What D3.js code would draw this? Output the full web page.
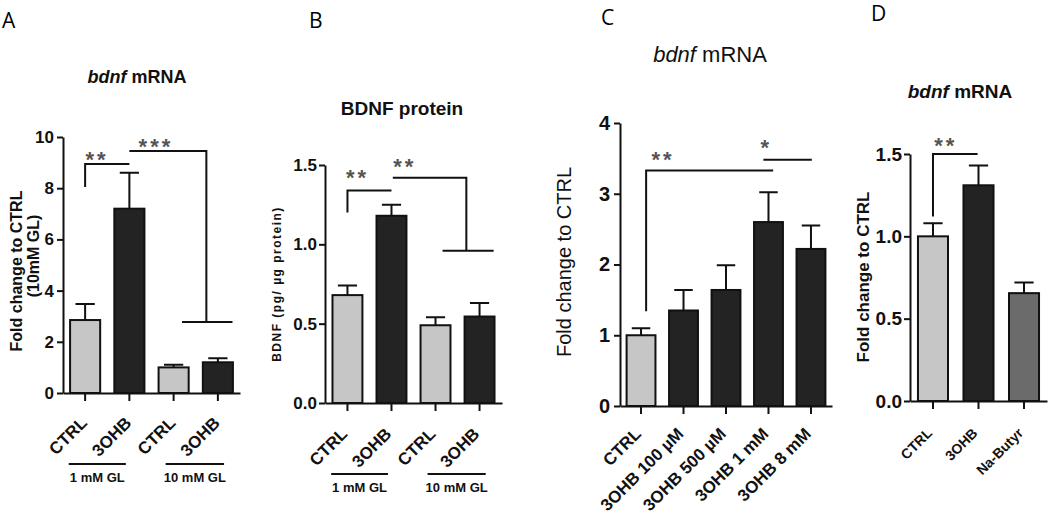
<!DOCTYPE html>
<html lang="en">
<head>
<meta charset="utf-8">
<title>bdnf panels</title>
<script src="https://cdn.jsdelivr.net/npm/d3@7"></script>
<style>
  body { margin: 0; background: #fff; }
  svg { display: block; font-family: "Liberation Sans", Arial, sans-serif; }
  .domain, .tick line { stroke: #111; stroke-width: 2; }
  .panel-letter { font-family: "Open Sans", "Liberation Sans", sans-serif; font-size: 21px; }
  .star { fill: #555; font-weight: bold; }
</style>
</head>
<body>
<svg width="1050" height="516"></svg>
<script>
// ---- data ----
// panel A: bdnf mRNA, fold change to CTRL (10 mM GL)
var aCats = ["CTRL", "3OHB", "CTRL", "3OHB"],
    aMeans = [2.85, 7.2, 1.0, 1.2],
    aSem = [0.63, 1.4, 0.1, 0.16],
    aTicks = [0, 2, 4, 6, 8, 10];
// panel B: BDNF protein
var bCats = ["CTRL", "3OHB", "CTRL", "3OHB"],
    bMeans = [0.68, 1.18, 0.49, 0.545],
    bSem = [0.06, 0.07, 0.05, 0.085],
    bTicks = [0, 0.5, 1.0, 1.5];
// panel C: bdnf mRNA, 3OHB doses
var cCats = ["CTRL", "3OHB 100 \u00b5M", "3OHB 500 \u00b5M", "3OHB 1 mM", "3OHB 8 mM"],
    cMeans = [1.0, 1.35, 1.64, 2.6, 2.22],
    cSem = [0.1, 0.29, 0.35, 0.42, 0.33],
    cTicks = [0, 1, 2, 3, 4];
// panel D: bdnf mRNA, CTRL / 3OHB / Na-Butyr
var dCats = ["CTRL", "3OHB", "Na-Butyr"],
    dMeans = [1.0, 1.31, 0.655],
    dSem = [0.08, 0.12, 0.065],
    dTicks = [0, 0.5, 1.0, 1.5];

// significance brackets: polylines in [category index, value]
var aSig = [
  {pts: [[0, 8.05], [0, 8.95], [1, 8.95]], label: "**", at: [0.27, 9.3]},
  {pts: [[1, 9.45], [2.74, 9.45], [2.74, 2.77]], label: "***", at: [1.6, 9.8]},
  {pts: [[2.19, 2.77], [3.33, 2.77]]}
];
var bSig = [
  {pts: [[0, 1.2], [0, 1.34], [1, 1.34]], label: "**", at: [0.23, 1.45]},
  {pts: [[1.03, 1.42], [2.7, 1.42], [2.7, 0.96]], label: "**", at: [1.3, 1.52]},
  {pts: [[2.16, 0.96], [3.32, 0.96]]}
];
var cSig = [
  {pts: [[0.12, 1.34], [0.12, 3.33], [3.11, 3.33]], label: "**", at: [0.52, 3.55]},
  {pts: [[2.88, 3.48], [4.02, 3.48]], label: "*", at: [2.95, 3.72]}
];
var dSig = [
  {pts: [[0, 1.12], [0, 1.5], [0.98, 1.5]], label: "**", at: [0.28, 1.58]}
];

// group underlines for A and B
var glGroups = [
  {label: "1 mM GL", from: -0.37, to: 0.92},
  {label: "10 mM GL", from: 1.82, to: 3.14}
];

var LIGHT = "#c6c6c6", DARK = "#232323", MID = "#6b6b6b";

var svg = d3.select("svg");

function drawPanel(p) {
  var g = svg.append("g");
  var idx = d3.range(p.cats.length);

  var x = d3.scaleBand().domain(idx).range([p.x0, p.x1])
    .paddingInner(p.pin).paddingOuter(p.pout);
  var y = d3.scaleLinear().domain([0, p.ymax]).range([p.y0, p.ytop]);

  // fractional category position -> pixel
  function fx(f) {
    var i = Math.max(0, Math.min(p.cats.length - 2, Math.floor(f)));
    var c0 = x(i) + x.bandwidth() / 2, c1 = x(i + 1) + x.bandwidth() / 2;
    return c0 + (f - i) * (c1 - c0);
  }

  // bars
  g.selectAll("rect.bar").data(p.means).join("rect")
    .attr("x", function(d, i) { return x(i); })
    .attr("y", function(d) { return y(d); })
    .attr("width", x.bandwidth())
    .attr("height", function(d) { return y(0) - y(d); })
    .attr("fill", function(d, i) { return p.colors[i]; })
    .attr("stroke", "#111").attr("stroke-width", 2);

  // error bars (upper only)
  var cap = x.bandwidth() * 0.32;
  g.selectAll("path.err").data(p.means).join("path")
    .attr("d", function(d, i) {
      var cx = x(i) + x.bandwidth() / 2, top = y(d + p.sem[i]);
      return "M" + cx + "," + y(d) + "V" + top + "M" + (cx - cap) + "," + top + "H" + (cx + cap);
    })
    .attr("fill", "none").attr("stroke", "#111").attr("stroke-width", 2);

  // y axis
  var ya = g.append("g").attr("transform", "translate(" + p.x0 + ",0)")
    .call(d3.axisLeft(y).tickValues(p.ticks).tickFormat(d3.format(p.fmt))
      .tickSize(6).tickSizeOuter(0).tickPadding(p.tpad));
  ya.selectAll("text").attr("font-size", p.tickFont).attr("font-weight", "bold")
    .attr("fill", "#111");

  // x axis
  var xa = g.append("g").attr("transform", "translate(0," + p.y0 + ")")
    .call(d3.axisBottom(x).tickSize(8).tickSizeOuter(0)
      .tickFormat(function(i) { return p.cats[i]; }));
  xa.selectAll("text")
    .attr("x", 0).attr("y", 0).attr("dy", 0)
    .attr("text-anchor", "end")
    .attr("transform", "translate(" + p.lx + "," + p.ly + ") rotate(-45)")
    .attr("font-size", p.xFont).attr("font-weight", "bold").attr("fill", "#111");

  // brackets
  var line = d3.line().x(function(d) { return fx(d[0]); }).y(function(d) { return y(d[1]); });
  g.selectAll("path.sig").data(p.sig).join("path")
    .attr("d", function(d) { return line(d.pts); })
    .attr("fill", "none").attr("stroke", "#111").attr("stroke-width", 2);
  g.selectAll("text.star").data(p.sig.filter(function(d) { return d.label; })).join("text")
    .attr("class", "star")
    .attr("x", function(d) { return fx(d.at[0]); })
    .attr("y", function(d) { return y(d.at[1]) + 12; })
    .attr("text-anchor", "middle")
    .attr("font-size", 22).attr("letter-spacing", 3)
    .text(function(d) { return d.label; });

  // group underlines
  if (p.groups) {
    p.groups.forEach(function(gr) {
      var a = fx(gr.from), b = fx(gr.to);
      g.append("line").attr("x1", a).attr("x2", b)
        .attr("y1", p.gy).attr("y2", p.gy).attr("stroke", "#111").attr("stroke-width", 2);
      g.append("text").attr("x", (a + b) / 2).attr("y", p.gy + 18)
        .attr("text-anchor", "middle").attr("font-size", 13).attr("font-weight", "bold")
        .attr("fill", "#111").text(gr.label);
    });
  }

  // title
  var t = g.append("text").attr("x", p.tx).attr("y", p.ty).attr("text-anchor", "middle")
    .attr("font-size", p.titleFont).attr("font-weight", p.titleWeight).attr("fill", "#111");
  if (p.italicWord) {
    t.append("tspan").attr("font-style", "italic").text(p.italicWord);
    t.append("tspan").text(" " + p.title);
  } else {
    t.text(p.title);
  }

  // y label lines
  p.ylab.forEach(function(l) {
    g.append("text")
      .attr("transform", "translate(" + l.x + "," + l.y + ") rotate(-90)")
      .attr("text-anchor", "middle")
      .attr("font-size", l.size).attr("font-weight", l.weight)
      .attr("letter-spacing", l.ls || 0)
      .attr("fill", "#111").text(l.text);
  });

  // panel letter
  svg.append("text").attr("class", "panel-letter")
    .attr("x", p.letter[1]).attr("y", p.letter[2]).text(p.letter[0]);
}

drawPanel({
  cats: aCats, means: aMeans, sem: aSem, ticks: aTicks, fmt: "d", ymax: 10,
  colors: [LIGHT, DARK, LIGHT, DARK], sig: aSig, groups: glGroups, gy: 464,
  x0: 63, x1: 240, pin: 0.32, pout: 0.16, y0: 393, ytop: 137,
  tickFont: 17, tpad: 3, xFont: 17, lx: 3, ly: 31,
  title: "mRNA", italicWord: "bdnf", tx: 137, ty: 83, titleFont: 18, titleWeight: "bold",
  ylab: [
    {text: "Fold change to CTRL", x: 22, y: 271, size: 16, weight: "bold"},
    {text: "(10mM GL)", x: 39, y: 256, size: 16, weight: "bold"}
  ],
  letter: ["A", 2, 28]
});

drawPanel({
  cats: bCats, means: bMeans, sem: bSem, ticks: bTicks, fmt: ".1f", ymax: 1.5,
  colors: [LIGHT, DARK, LIGHT, DARK], sig: bSig, groups: glGroups, gy: 474,
  x0: 325, x1: 502, pin: 0.32, pout: 0.17, y0: 403, ytop: 165,
  tickFont: 17, tpad: 2, xFont: 17, lx: 1, ly: 32,
  title: "BDNF protein", tx: 402, ty: 115, titleFont: 19, titleWeight: "bold",
  ylab: [
    {text: "BDNF (pg/ \u00b5g protein)", x: 281, y: 284, size: 12, weight: "bold", ls: 1.5}
  ],
  letter: ["B", 309, 28]
});

drawPanel({
  cats: cCats, means: cMeans, sem: cSem, ticks: cTicks, fmt: "d", ymax: 4,
  colors: [LIGHT, DARK, DARK, DARK, DARK], sig: cSig,
  x0: 620, x1: 832, pin: 0.32, pout: 0.155, y0: 406, ytop: 123,
  tickFont: 20, tpad: 4, xFont: 17, lx: 1, ly: 29,
  title: "mRNA", italicWord: "bdnf", tx: 710, ty: 62, titleFont: 22, titleWeight: "normal",
  ylab: [
    {text: "Fold change to CTRL", x: 571, y: 262, size: 20, weight: "normal"}
  ],
  letter: ["C", 601, 25]
});

drawPanel({
  cats: dCats, means: dMeans, sem: dSem, ticks: dTicks, fmt: ".1f", ymax: 1.5,
  colors: [LIGHT, DARK, MID], sig: dSig,
  x0: 910, x1: 1047, pin: 0.34, pout: 0.175, y0: 401, ytop: 154,
  tickFont: 19, tpad: 2, xFont: 14, lx: 0, ly: 33,
  title: "mRNA", italicWord: "bdnf", tx: 960, ty: 98, titleFont: 19, titleWeight: "bold",
  ylab: [
    {text: "Fold change to CTRL", x: 869, y: 277, size: 17, weight: "bold"}
  ],
  letter: ["D", 871, 21]
});
</script>
</body>
</html>
